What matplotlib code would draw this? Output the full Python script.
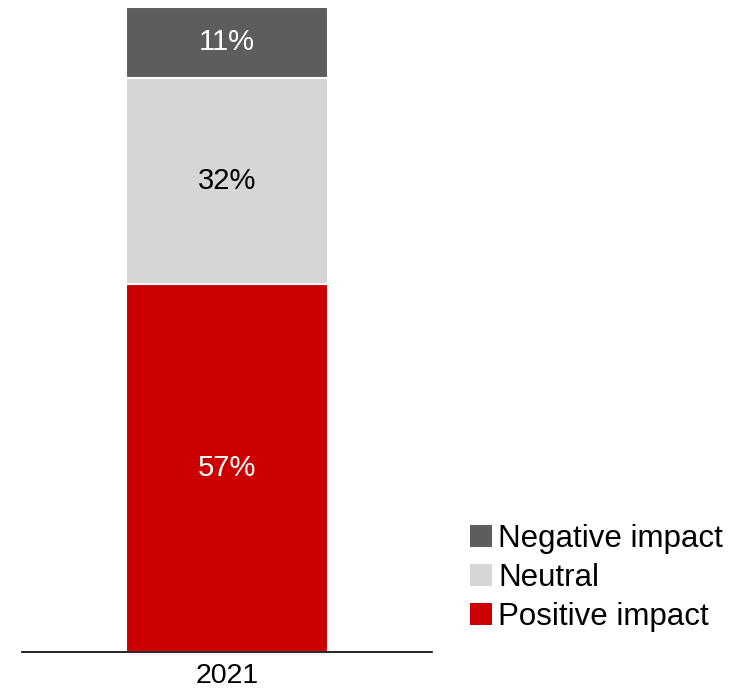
import matplotlib.pyplot as plt
from matplotlib.patches import Patch

plt.rcParams['font.family'] = ['Liberation Sans', 'DejaVu Sans']

# Share of responses by impact, single year
years = ['2021']
categories = ['Positive impact', 'Neutral', 'Negative impact']
shares = [57, 32, 11]
colors = ['#cc0000', '#d6d6d6', '#5d5d5d']
label_colors = ['white', 'black', 'white']

fig = plt.figure(figsize=(7.53, 6.91), dpi=100)
ax = fig.add_axes([22 / 753, 39 / 691, 410 / 753, 645 / 691])

bottom = 0
for cat, val, col, lc in zip(categories, shares, colors, label_colors):
    ax.bar(0, val, bottom=bottom, width=0.99, color=col, edgecolor='white',
           linewidth=1.5, label=cat)
    ax.text(0, bottom + val / 2, f'{val}%', ha='center', va='center',
            color=lc, fontsize=21)
    bottom += val

ax.set_xlim(-1, 1)
ax.set_ylim(0, 100)
ax.set_xticks([0])
ax.set_xticklabels(years, fontsize=20.5)
ax.tick_params(axis='x', length=0, pad=8)
ax.set_yticks([])
for side in ['top', 'right', 'left']:
    ax.spines[side].set_visible(False)
ax.spines['bottom'].set_linewidth(1.2)

handles = [Patch(facecolor=c, label=l) for c, l in zip(colors, categories)][::-1]
fig.legend(handles=handles, loc='upper left', bbox_to_anchor=(470 / 753, 1 - 524 / 691),
           frameon=False, fontsize=22.5, handlelength=0.7, handleheight=0.7,
           handletextpad=0.2, labelspacing=0.29, borderpad=0, borderaxespad=0)

fig.savefig('out.png', dpi=100)
